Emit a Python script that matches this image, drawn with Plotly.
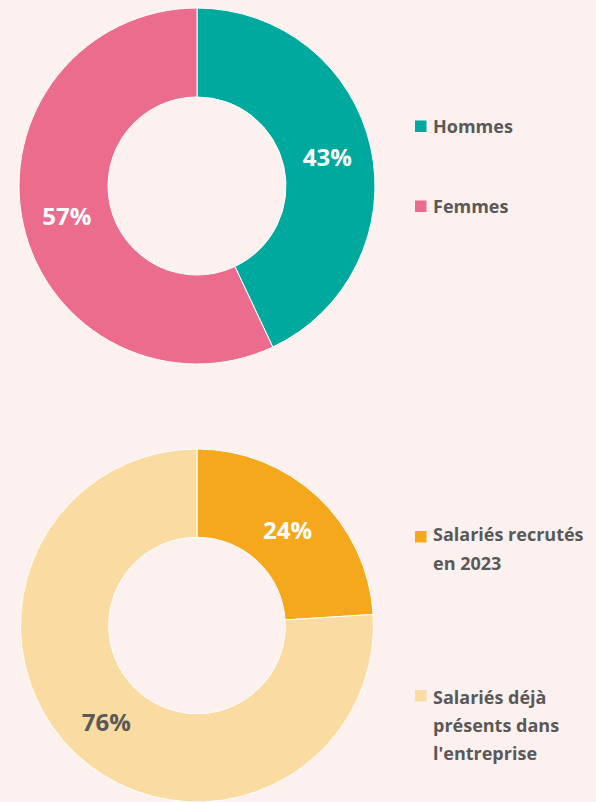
import plotly.graph_objects as go

W, H = 596, 802

# ---- data ----
gender_labels = ["Hommes", "Femmes"]
gender_values = [43, 57]
gender_colors = ["#00A99D", "#EC6C8E"]
gender_text_colors = ["#FFFFFF", "#FFFFFF"]

recruit_labels = ["Salariés recrutés en 2023", "Salariés déjà présents dans l'entreprise"]
recruit_legend_lines = [["Salariés recrutés", "en 2023"], ["Salariés déjà", "présents dans", "l'entreprise"]]
recruit_values = [24, 76]
recruit_colors = ["#F6A81C", "#FADBA1"]
recruit_text_colors = ["#FFFFFF", "#595959"]

BG = "#FCF1EE"
TXT = "#595959"
FONT = "Open Sans"


def px_x(x):
    return x / W


def px_y(y):
    return 1 - y / H


fig = go.Figure()

fig.add_trace(go.Pie(
    labels=gender_labels, values=gender_values, hole=0.5, sort=False,
    direction="clockwise", rotation=0,
    marker=dict(colors=gender_colors, line=dict(color="white", width=1)),
    textinfo="percent", texttemplate="%{percent:.0%}", textposition="inside",
    insidetextorientation="horizontal",
    textfont=dict(family=FONT, size=24, color=gender_text_colors, weight="bold"),
    domain=dict(x=[px_x(19), px_x(375)], y=[px_y(364), px_y(8)]),
    showlegend=False, hoverinfo="label+percent",
))

fig.add_trace(go.Pie(
    labels=recruit_labels, values=recruit_values, hole=0.5, sort=False,
    direction="clockwise", rotation=0,
    marker=dict(colors=recruit_colors, line=dict(color="white", width=1)),
    textinfo="percent", texttemplate="%{percent:.0%}", textposition="inside",
    insidetextorientation="horizontal",
    textfont=dict(family=FONT, size=24, color=recruit_text_colors, weight="bold"),
    domain=dict(x=[px_x(19), px_x(375)], y=[0, px_y(449)]),
    showlegend=False, hoverinfo="label+percent",
))

shapes = []
annotations = []


def legend_item(lines, color, sq_top, first_center, spacing):
    shapes.append(dict(type="rect", xref="paper", yref="paper",
                       x0=px_x(415), x1=px_x(426.5), y0=px_y(sq_top + 11.5), y1=px_y(sq_top),
                       fillcolor=color, line=dict(width=0)))
    for i, line in enumerate(lines):
        annotations.append(dict(
            text=line, xref="paper", yref="paper",
            x=px_x(431), y=px_y(first_center + i * spacing),
            xanchor="left", yanchor="middle", showarrow=False,
            font=dict(family=FONT, size=18, color=TXT, weight="bold"),
        ))


legend_item([gender_labels[0]], gender_colors[0], 120.5, 126, 28)
legend_item([gender_labels[1]], gender_colors[1], 200.5, 206, 28)
legend_item(recruit_legend_lines[0], recruit_colors[0], 531, 534, 29)
legend_item(recruit_legend_lines[1], recruit_colors[1], 690, 697, 28)

fig.update_layout(
    width=W, height=H,
    margin=dict(l=0, r=0, t=0, b=0),
    paper_bgcolor=BG, plot_bgcolor=BG,
    shapes=shapes, annotations=annotations,
    font=dict(family=FONT, color=TXT),
)

fig.write_html(
    "out.html",
    config={"displayModeBar": False},
    post_script="document.body.style.margin='0';document.body.style.overflow='hidden';",
)
